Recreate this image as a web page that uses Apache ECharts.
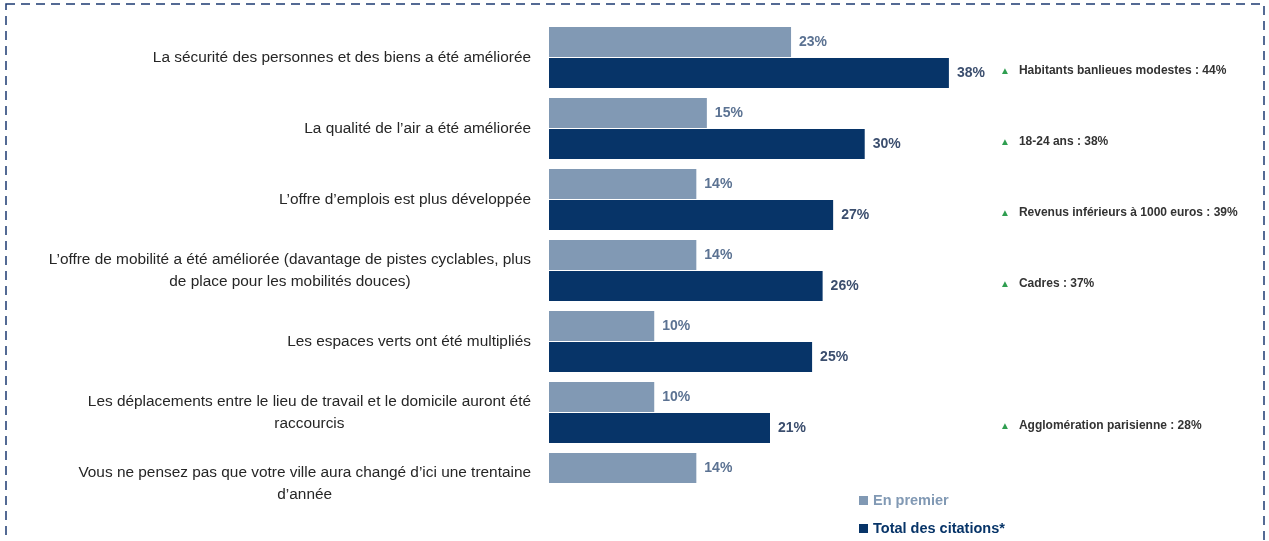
<!DOCTYPE html>
<html>
<head>
<meta charset="utf-8">
<script src="https://cdn.jsdelivr.net/npm/echarts@6/dist/echarts.min.js"></script>
<style>
  html, body { margin: 0; padding: 0; background: #fff; }
  #chart { width: 1269px; height: 541px; }
</style>
</head>
<body>
<div id="chart"></div>
<script>
// categories (top to bottom)
const categories = [
  "La sécurité des personnes et des biens a été améliorée",
  "La qualité de l’air a été améliorée",
  "L’offre d’emplois est plus développée",
  "L’offre de mobilité a été améliorée (davantage de pistes cyclables, plus\nde place pour les mobilités douces)",
  "Les espaces verts ont été multipliés",
  "Les déplacements entre le lieu de travail et le domicile auront été\nraccourcis",
  "Vous ne pensez pas que votre ville aura changé d’ici une trentaine\nd’année",
];
const enPremier = [23, 15, 14, 14, 10, 10, 14];
const totalCitations = [38, 30, 27, 26, 25, 21, null];
// sous-populations en hausse, à droite
const highlights = [
  "Habitants banlieues modestes : 44%",
  "18-24 ans : 38%",
  "Revenus inférieurs à 1000 euros : 39%",
  "Cadres : 37%",
  "",
  "Agglomération parisienne : 28%",
  "",
];

const FONT = "Liberation Sans";
const LIGHT = "#8199b4";
const DARK = "#073468";

const chart = echarts.init(document.getElementById("chart"));

const option = {
  backgroundColor: "#fff",
  animation: false,
  textStyle: { fontFamily: FONT },
  graphic: [
    {
      type: "rect",
      shape: { x: 6, y: 4, width: 1258, height: 560 },
      style: { fill: "none", stroke: "#1d3a72", lineWidth: 1.5, lineDash: [9, 6] },
      silent: true,
    },
  ],
  legend: {
    orient: "vertical",
    left: 854,
    top: 488,
    itemWidth: 9,
    itemHeight: 9,
    itemGap: 13,
    icon: "rect",
    data: [
      { name: "En premier", textStyle: { color: LIGHT } },
      { name: "Total des citations*", textStyle: { color: DARK } },
    ],
    textStyle: { fontFamily: FONT, fontSize: 14.5, fontWeight: "bold" },
  },
  grid: {
    left: 549,
    right: 278,
    top: 22,
    bottom: 22,
  },
  xAxis: {
    type: "value",
    min: 0,
    max: 42,
    show: false,
  },
  yAxis: [
    {
      type: "category",
      inverse: true,
      data: categories,
      axisLine: { show: false },
      axisTick: { show: false },
      axisLabel: {
        margin: 18,
        align: "right",
        formatter: (val) => val.split("\n").map((l) => "{c|" + l + "}").join("\n"),
        rich: {
          c: { align: "center", fontFamily: FONT, fontSize: 15.4, color: "#262626", lineHeight: 22 },
        },
      },
    },
    {
      type: "category",
      inverse: true,
      position: "right",
      data: highlights,
      axisLine: { show: false },
      axisTick: { show: false },
      axisLabel: {
        margin: 9,
        align: "left",
        padding: [27, 0, 0, 0],
        formatter: (val) => (val ? "{t|▲}{a|" + val + "}" : ""),
        rich: {
          t: { color: "#2f9e50", fontSize: 10, padding: [0, 9, 0, 0] },
          a: { color: "#333", fontFamily: FONT, fontSize: 12, fontWeight: "bold" },
        },
      },
    },
  ],
  series: [
    {
      name: "En premier",
      type: "bar",
      barWidth: 30,
      barGap: "3%",
      itemStyle: { color: LIGHT },
      label: {
        show: true,
        position: "right",
        distance: 8,
        formatter: "{c}%",
        fontFamily: FONT,
        fontSize: 14,
        fontWeight: "bold",
        color: "#5b7292",
      },
      data: enPremier,
    },
    {
      name: "Total des citations*",
      type: "bar",
      barWidth: 30,
      itemStyle: { color: DARK },
      label: {
        show: true,
        position: "right",
        distance: 8,
        formatter: "{c}%",
        fontFamily: FONT,
        fontSize: 14,
        fontWeight: "bold",
        color: "#3b4e6e",
      },
      data: totalCitations,
    },
  ],
};

chart.setOption(option);
</script>
</body>
</html>
